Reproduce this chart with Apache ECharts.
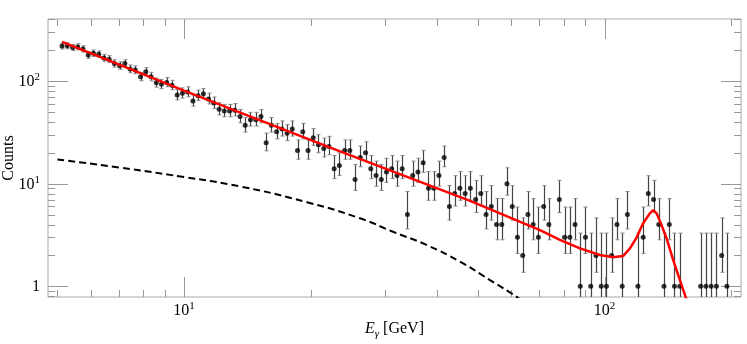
<!DOCTYPE html>
<html>
<head>
<meta charset="utf-8">
<script src="https://cdn.jsdelivr.net/npm/echarts@6/dist/echarts.min.js"></script>
<style>
html, body { margin: 0; padding: 0; background: #fff; }
#box { width: 747px; height: 344px; }
</style>
</head>
<body>
<div id="box"></div>
<script>
// bin centres [GeV]
var energies = [
  5.129, 5.278, 5.432, 5.590, 5.752, 5.920, 6.092, 6.269, 6.451, 6.639,
  6.832, 7.030, 7.235, 7.445, 7.661, 7.884, 8.113, 8.349, 8.592, 8.841,
  9.098, 9.362, 9.634, 9.914, 10.20, 10.50, 10.80, 11.12, 11.44, 11.77,
  12.12, 12.47, 12.83, 13.20, 13.59, 13.98, 14.39, 14.81, 15.24, 15.68,
  16.14, 16.60, 17.09, 17.58, 18.09, 18.62, 19.16, 19.72, 20.29, 20.88,
  21.49, 22.11, 22.75, 23.41, 24.09, 24.79, 25.51, 26.25, 27.02, 27.80,
  28.62, 29.45, 30.30, 31.18, 32.09, 33.02, 33.98, 34.97, 35.99, 37.03,
  38.13, 39.24, 40.38, 41.55, 42.76, 44.00, 45.28, 46.60, 47.95, 49.35,
  50.78, 52.26, 53.78, 55.34, 56.95, 58.60, 60.31, 62.06, 63.87, 65.72,
  67.63, 69.60, 71.62, 73.70, 75.85, 78.05, 80.32, 82.66, 85.06, 87.53,
  90.07, 92.69, 95.38, 98.16, 101.0, 103.9, 107.0, 110.1, 113.3, 116.6,
  120.0, 123.5, 127.0, 130.7, 134.5, 138.4, 142.5, 146.6, 150.9, 155.3,
  159.8, 164.4, 169.2, 174.1, 179.2, 184.4, 189.8, 195.3
];
// counts per bin (null = empty bin, not drawn on log scale)
var counts = [
  219, 220, 212, 215, 205, 179, 186, 182, 168, 163,
  148, 141, 148, 131, 128, 110, 123, 110, 96, 93,
  97, 91, 73, 76, 78, 64, 72, 75, 67, 61,
  53, 51, 51, 52, 45, 37, 42, 42, 45, 25,
  37, 32, 34, 31, 34, 21, 32, 21, 28, 24,
  22, 23, 14, 15, 21, 21, 11, 18, 20, 14,
  12, 11, 13, 14, 12, 14, 5, 12, 13, 16,
  9, 9, 12, 18, 6, 8, 9, 8, 9, 7,
  8, 5, 6, 4, 4, 10, 6, 3, 2, 5,
  4, 3, 6, 4, null, 7, 3, 3, 4, 1,
  3, 1, 2, 1, 1, 2, 4, 1, 5, null,
  1, 3, 8, 7, 4, 1, 4, 1, 1, null,
  null, null, 1, 1, 1, 1, 2, 1
];
// lower / upper ends of the error bars
var errLo = [
  205.2, 206.1, 198.4, 201.3, 191.6, 166.6, 173.3, 169.5, 156.0, 151.2,
  136.8, 130.1, 136.8, 120.5, 117.6, 100.5, 112.9, 100.5, 87.2, 84.3,
  88.1, 82.4, 65.4, 68.2, 70.1, 56.9, 64.5, 67.3, 59.8, 54.1,
  46.7, 44.8, 44.8, 45.7, 39.2, 31.8, 36.4, 36.4, 39.2, 20.9,
  31.8, 27.3, 29.1, 26.3, 29.1, 17.3, 27.3, 17.3, 23.6, 20.0,
  18.2, 19.1, 11.2, 12.0, 17.3, 17.3, 8.6, 14.6, 16.4, 11.2,
  9.45, 8.6, 10.3, 11.2, 9.45, 11.2, 3.62, 9.45, 10.3, 12.9,
  6.89, 6.89, 9.45, 14.6, 4.42, 6.06, 6.89, 6.06, 6.89, 5.23,
  6.06, 3.62, 4.42, 2.84, 2.84, 7.73, 4.42, 2.09, 1.37, 3.62,
  2.84, 2.09, 4.42, 2.84, null, 5.23, 2.09, 2.09, 2.84, 0.71,
  2.09, 0.71, 1.37, 0.71, 0.71, 1.37, 2.84, 0.71, 3.62, null,
  0.71, 2.09, 6.06, 5.23, 2.84, 0.71, 2.84, 0.71, 0.71, null,
  null, null, 0.71, 0.71, 0.71, 0.71, 1.37, 0.71
];
var errHi = [
  234.8, 235.9, 227.6, 230.7, 220.3, 193.4, 200.7, 196.5, 182.0, 176.8,
  161.2, 153.9, 161.2, 143.5, 140.4, 121.5, 135.1, 121.5, 106.8, 103.7,
  107.9, 101.6, 82.6, 85.8, 87.9, 73.1, 81.5, 84.7, 76.2, 69.9,
  61.3, 59.2, 59.2, 60.3, 52.8, 44.1, 49.5, 49.5, 52.8, 31.1,
  44.1, 38.7, 40.9, 37.6, 40.9, 26.7, 38.7, 26.7, 34.4, 30.0,
  27.8, 28.9, 18.8, 20.0, 26.7, 26.7, 15.4, 23.3, 25.6, 18.8,
  16.6, 15.4, 17.7, 18.8, 16.6, 18.8, 8.38, 16.6, 17.7, 21.1,
  13.1, 13.1, 16.6, 23.3, 9.58, 11.95, 13.1, 11.95, 13.1, 10.77,
  11.95, 8.38, 9.58, 7.16, 7.16, 14.27, 9.58, 5.92, 4.64, 8.38,
  7.16, 5.92, 9.58, 7.16, null, 10.77, 5.92, 5.92, 7.16, 3.30,
  5.92, 3.30, 4.64, 3.30, 3.30, 4.64, 7.16, 3.30, 8.38, null,
  3.30, 5.92, 11.95, 10.77, 7.16, 3.30, 7.16, 3.30, 3.30, null,
  null, null, 3.30, 3.30, 3.30, 3.30, 4.64, 3.30
];
// total fit (red) and background-only component (dashed)
var fitCurve = [
  [5.13, 241], [6.31, 172], [10.0, 80.7], [14.35, 45.3], [22.2, 22.6],
  [32.6, 12.4], [47.9, 6.81], [70.2, 3.53], [78.3, 2.83], [87.4, 2.34],
  [97.5, 2.02], [104.8, 1.92], [110.6, 1.97], [114.9, 2.34], [119.2, 3.0],
  [123.5, 4.11], [128.1, 5.14], [130.5, 5.53], [132.9, 5.14], [136.6, 3.95],
  [140.4, 2.93], [145.6, 1.80], [151.0, 1.15], [155.8, 0.79], [158.0, 0.65]
];
var bkgCurve = [
  [5.0, 17.2], [7.0, 14.4], [10.0, 11.6], [13.6, 9.4], [19.6, 6.6],
  [26.2, 4.6], [31.4, 3.4], [37.8, 2.52], [45.3, 1.74], [53.4, 1.15],
  [61.8, 0.79], [64.0, 0.7]
];
// frame ticks
var xMajor = [10, 100];
var xMinor = [5, 6, 7, 8, 9, 20, 30, 40, 50, 60, 70, 80, 90, 200];
var yMajor = [1, 10, 100];
var yMinor = [0.8, 0.9, 2, 3, 4, 5, 6, 7, 8, 9, 20, 30, 40, 50, 60, 70, 80, 90, 200, 300, 400];

var FONT = 'Liberation Serif';

var points = [], bars = [];
for (var i = 0; i < energies.length; i++) {
  if (counts[i] == null) continue;
  points.push([energies[i], counts[i]]);
  bars.push([energies[i], counts[i], errLo[i], errHi[i]]);
}
var ticks = [];
xMajor.forEach(function (v) { ticks.push([v, 1, 0, 1]); });
xMinor.forEach(function (v) { ticks.push([v, 1, 0, 0]); });
yMajor.forEach(function (v) { ticks.push([10, v, 1, 1]); });
yMinor.forEach(function (v) { ticks.push([10, v, 1, 0]); });

function powLabel(v) {
  var p = Math.round(Math.log10(v));
  if (Math.abs(v - Math.pow(10, p)) > 1e-6 * v) return '';
  if (p === 0) return '{b|1}';
  return '{b|10}{s|' + p + '}';
}
var labelRich = {
  b: { fontFamily: FONT, fontSize: 16, color: '#000', verticalAlign: 'bottom' },
  s: { fontFamily: FONT, fontSize: 11, color: '#000', verticalAlign: 'bottom', padding: [0, 0, 7, 0] }
};

var chart = echarts.init(document.getElementById('box'));
var option = {
  animation: false,
  textStyle: { fontFamily: FONT },
  grid: {
    left: 48, right: 6, top: 19, bottom: 47,
    containLabel: false, outerBoundsMode: 'none',
    show: true, borderColor: '#aaa', borderWidth: 1
  },
  xAxis: {
    type: 'log', logBase: 10, min: 4.75, max: 211,
    name: '{e|E}{g|γ}{t| [GeV]}',
    nameLocation: 'middle', nameGap: 24, nameMoveOverlap: false,
    nameTextStyle: {
      rich: {
        e: { fontFamily: FONT, fontSize: 16, fontStyle: 'italic', color: '#000', verticalAlign: 'top' },
        g: { fontFamily: FONT, fontSize: 11, fontStyle: 'italic', color: '#000', verticalAlign: 'top', padding: [8, 0, 0, 0] },
        t: { fontFamily: FONT, fontSize: 16, color: '#000', verticalAlign: 'top' }
      }
    },
    axisLine: { show: false }, axisTick: { show: false }, splitLine: { show: false },
    axisLabel: { formatter: powLabel, rich: labelRich, margin: 4, showMinLabel: false, showMaxLabel: false }
  },
  yAxis: {
    type: 'log', logBase: 10, min: 0.787, max: 402,
    name: 'Counts', nameLocation: 'middle', nameGap: 31, nameMoveOverlap: false,
    nameTextStyle: { fontFamily: FONT, fontSize: 16, color: '#000' },
    axisLine: { show: false }, axisTick: { show: false }, splitLine: { show: false },
    axisLabel: { formatter: powLabel, rich: labelRich, margin: 8, showMinLabel: false, showMaxLabel: false }
  },
  series: [
    {
      type: 'custom', silent: true, z: 1,
      data: ticks,
      renderItem: function (params, api) {
        var cs = params.coordSys;
        var len = api.value(3) ? 20 : 7;
        var st = { stroke: '#999', lineWidth: 1 };
        if (api.value(2) === 0) {
          var px = Math.round(api.coord([api.value(0), 1])[0]) + 0.5;
          var yb = cs.y + cs.height;
          return { type: 'group', children: [
            { type: 'line', shape: { x1: px, y1: yb, x2: px, y2: yb - len }, style: st },
            { type: 'line', shape: { x1: px, y1: cs.y, x2: px, y2: cs.y + len }, style: st }
          ] };
        }
        var py = Math.round(api.coord([10, api.value(1)])[1]) + 0.5;
        var xr = cs.x + cs.width;
        return { type: 'group', children: [
          { type: 'line', shape: { x1: cs.x, y1: py, x2: cs.x + len, y2: py }, style: st },
          { type: 'line', shape: { x1: xr, y1: py, x2: xr - len, y2: py }, style: st }
        ] };
      }
    },
    {
      name: 'background', type: 'line', data: bkgCurve, smooth: true,
      showSymbol: false, symbol: 'none', clip: true, z: 2,
      lineStyle: { color: '#000', width: 2, type: [7, 4] }
    },
    {
      name: 'errors', type: 'custom', silent: true, clip: true, z: 3,
      data: bars,
      renderItem: function (params, api) {
        var top = api.coord([api.value(0), api.value(3)]);
        var bot = api.coord([api.value(0), api.value(2)]);
        var x = Math.round(top[0]) + 0.5;
        return { type: 'group', children: [
          { type: 'line', shape: { x1: x, y1: top[1], x2: x, y2: bot[1] }, style: { stroke: '#444', lineWidth: 1.2 } },
          { type: 'line', shape: { x1: x - 2, y1: top[1], x2: x + 2, y2: top[1] }, style: { stroke: '#888', lineWidth: 1 } },
          { type: 'line', shape: { x1: x - 2, y1: bot[1], x2: x + 2, y2: bot[1] }, style: { stroke: '#888', lineWidth: 1 } }
        ] };
      }
    },
    {
      name: 'data', type: 'scatter', data: points, symbolSize: 5, z: 4,
      itemStyle: { color: '#000' }
    },
    {
      name: 'fit', type: 'line', data: fitCurve, smooth: false,
      showSymbol: false, symbol: 'none', clip: true, z: 5,
      lineStyle: { color: '#f00', width: 2.5 }
    }
  ]
};
chart.setOption(option);
</script>
</body>
</html>
